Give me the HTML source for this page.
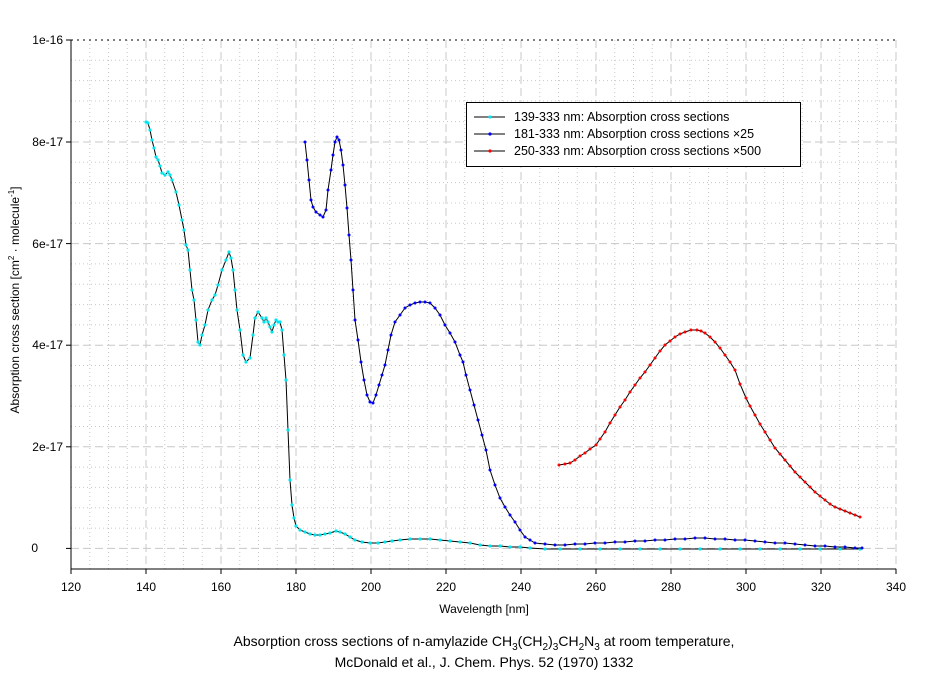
<!DOCTYPE html>
<html><head><meta charset="utf-8"><style>body{margin:0;background:#fff}svg{display:block;font-family:"Liberation Sans",Arial,sans-serif}</style></head><body>
<svg width="937" height="676" viewBox="0 0 937 676">
<defs>
<pattern id="g" x="0" y="0" width="1" height="1"></pattern>
<marker id="mc" markerWidth="4" markerHeight="4" refX="2" refY="2" markerUnits="userSpaceOnUse"><circle cx="2" cy="2" r="1.6" fill="#00e5ee"/></marker>
<marker id="mb" markerWidth="4" markerHeight="4" refX="2" refY="2" markerUnits="userSpaceOnUse"><circle cx="2" cy="2" r="1.5" fill="#0000ff"/></marker>
<marker id="mr" markerWidth="4" markerHeight="4" refX="2" refY="2" markerUnits="userSpaceOnUse"><circle cx="2" cy="2" r="1.5" fill="#ff0000"/></marker>
</defs>
<g id="grid" stroke="#c8c8c8" stroke-width="1">
<!-- minor x -->
<g stroke-dasharray="1,3">
<line x1="89.75" y1="40" x2="89.75" y2="569"/><line x1="108.5" y1="40" x2="108.5" y2="569"/><line x1="127.25" y1="40" x2="127.25" y2="569"/>
<line x1="164.75" y1="40" x2="164.75" y2="569"/><line x1="183.5" y1="40" x2="183.5" y2="569"/><line x1="202.25" y1="40" x2="202.25" y2="569"/>
<line x1="239.75" y1="40" x2="239.75" y2="569"/><line x1="258.5" y1="40" x2="258.5" y2="569"/><line x1="277.25" y1="40" x2="277.25" y2="569"/>
<line x1="314.75" y1="40" x2="314.75" y2="569"/><line x1="333.5" y1="40" x2="333.5" y2="569"/><line x1="352.25" y1="40" x2="352.25" y2="569"/>
<line x1="389.75" y1="40" x2="389.75" y2="569"/><line x1="408.5" y1="40" x2="408.5" y2="569"/><line x1="427.25" y1="40" x2="427.25" y2="569"/>
<line x1="464.75" y1="40" x2="464.75" y2="569"/><line x1="483.5" y1="40" x2="483.5" y2="569"/><line x1="502.25" y1="40" x2="502.25" y2="569"/>
<line x1="539.75" y1="40" x2="539.75" y2="569"/><line x1="558.5" y1="40" x2="558.5" y2="569"/><line x1="577.25" y1="40" x2="577.25" y2="569"/>
<line x1="614.75" y1="40" x2="614.75" y2="569"/><line x1="633.5" y1="40" x2="633.5" y2="569"/><line x1="652.25" y1="40" x2="652.25" y2="569"/>
<line x1="689.75" y1="40" x2="689.75" y2="569"/><line x1="708.5" y1="40" x2="708.5" y2="569"/><line x1="727.25" y1="40" x2="727.25" y2="569"/>
<line x1="764.75" y1="40" x2="764.75" y2="569"/><line x1="783.5" y1="40" x2="783.5" y2="569"/><line x1="802.25" y1="40" x2="802.25" y2="569"/>
<line x1="839.75" y1="40" x2="839.75" y2="569"/><line x1="858.5" y1="40" x2="858.5" y2="569"/><line x1="877.25" y1="40" x2="877.25" y2="569"/>
<line x1="71" y1="60.3" x2="896" y2="60.3"/><line x1="71" y1="80.6" x2="896" y2="80.6"/><line x1="71" y1="101" x2="896" y2="101"/><line x1="71" y1="121.6" x2="896" y2="121.6"/>
<line x1="71" y1="162.3" x2="896" y2="162.3"/><line x1="71" y1="182.6" x2="896" y2="182.6"/><line x1="71" y1="203" x2="896" y2="203"/><line x1="71" y1="223.3" x2="896" y2="223.3"/>
<line x1="71" y1="263.9" x2="896" y2="263.9"/><line x1="71" y1="284.2" x2="896" y2="284.2"/><line x1="71" y1="304.6" x2="896" y2="304.6"/><line x1="71" y1="324.9" x2="896" y2="324.9"/>
<line x1="71" y1="365.5" x2="896" y2="365.5"/><line x1="71" y1="385.8" x2="896" y2="385.8"/><line x1="71" y1="406.2" x2="896" y2="406.2"/><line x1="71" y1="426.5" x2="896" y2="426.5"/>
<line x1="71" y1="467.1" x2="896" y2="467.1"/><line x1="71" y1="487.4" x2="896" y2="487.4"/><line x1="71" y1="507.8" x2="896" y2="507.8"/><line x1="71" y1="528.1" x2="896" y2="528.1"/>
</g>
<g stroke-dasharray="8,4">
<line x1="146" y1="40" x2="146" y2="569"/><line x1="221" y1="40" x2="221" y2="569"/><line x1="296" y1="40" x2="296" y2="569"/><line x1="371" y1="40" x2="371" y2="569"/><line x1="446" y1="40" x2="446" y2="569"/><line x1="521" y1="40" x2="521" y2="569"/><line x1="596" y1="40" x2="596" y2="569"/><line x1="671" y1="40" x2="671" y2="569"/><line x1="746" y1="40" x2="746" y2="569"/><line x1="821" y1="40" x2="821" y2="569"/><line x1="896" y1="40" x2="896" y2="569"/>
<line x1="71" y1="142" x2="896" y2="142"/><line x1="71" y1="243.6" x2="896" y2="243.6"/><line x1="71" y1="345.2" x2="896" y2="345.2"/><line x1="71" y1="446.8" x2="896" y2="446.8"/><line x1="71" y1="548.4" x2="896" y2="548.4"/>
</g>
</g>
<line x1="71" y1="40" x2="896" y2="40" stroke="#000" stroke-dasharray="2,4"/>
<line x1="71" y1="40" x2="71" y2="569" stroke="#000"/>
<line x1="71" y1="569" x2="896" y2="569" stroke="#000"/>
<g stroke="#000">
<line x1="66" y1="40" x2="71" y2="40"/><line x1="66" y1="142" x2="71" y2="142"/><line x1="66" y1="243.6" x2="71" y2="243.6"/><line x1="66" y1="345.2" x2="71" y2="345.2"/><line x1="66" y1="446.8" x2="71" y2="446.8"/><line x1="66" y1="548.4" x2="71" y2="548.4"/>
<line x1="71" y1="569" x2="71" y2="574"/><line x1="146" y1="569" x2="146" y2="574"/><line x1="221" y1="569" x2="221" y2="574"/><line x1="296" y1="569" x2="296" y2="574"/><line x1="371" y1="569" x2="371" y2="574"/><line x1="446" y1="569" x2="446" y2="574"/><line x1="521" y1="569" x2="521" y2="574"/><line x1="596" y1="569" x2="596" y2="574"/><line x1="671" y1="569" x2="671" y2="574"/><line x1="746" y1="569" x2="746" y2="574"/><line x1="821" y1="569" x2="821" y2="574"/><line x1="896" y1="569" x2="896" y2="574"/>
</g>
<g font-size="12" text-anchor="end" fill="#000">
<text x="63" y="44">1e-16</text><text x="63" y="146">8e-17</text><text x="63" y="248">6e-17</text><text x="63" y="349">4e-17</text><text x="63" y="451">2e-17</text><text x="38" y="552">0</text>
</g>
<g font-size="12" text-anchor="middle">
<text x="71" y="591">120</text><text x="146" y="591">140</text><text x="221" y="591">160</text><text x="296" y="591">180</text><text x="371" y="591">200</text><text x="446" y="591">220</text><text x="521" y="591">240</text><text x="596" y="591">260</text><text x="671" y="591">280</text><text x="746" y="591">300</text><text x="821" y="591">320</text><text x="896" y="591">340</text>
<text x="484" y="613">Wavelength [nm]</text>
<text x="484" y="646" font-size="14">Absorption cross sections of n-amylazide CH<tspan font-size="10" dy="4">3</tspan><tspan dy="-4">(CH</tspan><tspan font-size="10" dy="4">2</tspan><tspan dy="-4">)</tspan><tspan font-size="10" dy="4">3</tspan><tspan dy="-4">CH</tspan><tspan font-size="10" dy="4">2</tspan><tspan dy="-4">N</tspan><tspan font-size="10" dy="4">3</tspan><tspan dy="-4"> at room temperature,</tspan></text>
<text x="484" y="667" font-size="14">McDonald et al., J. Chem. Phys. 52 (1970) 1332</text>
</g>
<text transform="translate(19,300) rotate(-90)" font-size="12" text-anchor="middle">Absorption cross section [cm<tspan font-size="8" dy="-5">2</tspan><tspan dy="5"> · molecule</tspan><tspan font-size="8" dy="-5">-1</tspan><tspan dy="5">]</tspan></text>

<polyline fill="none" stroke="#000" stroke-width="1" marker-start="url(#mc)" marker-mid="url(#mc)" marker-end="url(#mc)" points="146,122 148,123 150,130 152,140 154,148 156,157 158,160 160,166 162,173 165,175 168,172 170,175 172,180 176,192 179,205 182,220 184,230 186,245 188,250 190,270 192,290 194,300 196,320 198,342 200,345 202,335 205,325 208,310 212,300 215,295 218,285 222,270 226,260 229,252 231,258 233,270 235,290 237,310 240,330 243,355 246,362 250,358 253,335 255,318 258,312 262,318 264,322 266,318 268,322 270,327 272,332 274,325 276,320 278,322 280,322 282,330 284,355 286,380 288,430 290,480 292,505 294,518 296,526 300,530 305,532 310,534 315,535 320,535 325,534 330,533 336,531 340,532 345,534 350,537 355,540 362,542 370,543 378,543 385,542 392,541 400,540 410,539 420,539 430,539 440,540 450,541 460,542 470,543 480,545 490,546 500,546 510,547 520,547 530,548 545,549 560,549 580,549 600,549 620,549 640,549 660,549 680,549 700,549 720,549 740,549 760,549 780,549 800,549 820,549 840,549 860,549"/>
<polyline fill="none" stroke="#000" stroke-width="1" marker-start="url(#mb)" marker-mid="url(#mb)" marker-end="url(#mb)" points="305,142 307,160 309,180 311,200 313,207 316,212 320,215 323,217 326,210 328,190 331,170 333,155 335,142 337,137 339,140 341,150 343,165 345,185 347,208 349,235 351,260 353,290 355,320 358,340 361,362 364,380 367,395 370,402 373,403 376,395 379,385 382,375 385,365 388,350 391,335 395,322 400,315 405,308 410,305 415,303 420,302 425,302 430,303 435,308 440,315 445,325 450,333 455,342 460,355 463,362 466,375 470,390 474,405 478,420 482,435 486,450 490,470 495,485 500,498 505,507 510,515 515,522 520,530 525,537 530,540 535,543 545,544 555,545 565,545 575,544 585,544 595,543 605,543 615,542 625,542 635,541 645,541 655,540 665,540 675,539 685,539 695,538 705,538 715,539 725,539 735,540 745,540 755,541 765,542 775,543 785,543 795,544 805,545 815,546 825,546 835,547 845,547 855,548 862,548"/>
<polyline fill="none" stroke="#000" stroke-width="1" marker-start="url(#mr)" marker-mid="url(#mr)" marker-end="url(#mr)" points="559,465 565,464 570,463 575,460 580,456 585,453 590,449 596,445 600,439 605,432 610,423 615,415 620,407 625,400 630,392 635,385 640,378 645,372 650,365 655,358 660,351 665,345 670,341 675,337 680,334 685,332 691,330 697,330 701,331 705,333 710,337 715,342 720,348 725,355 730,362 735,370 740,384 746,398 750,406 755,415 760,424 765,432 770,440 775,448 780,454 785,460 790,466 795,472 800,477 805,482 810,487 815,492 820,496 825,500 830,504 835,507 840,509 845,511 850,513 855,515 860,517"/>

<rect x="466.5" y="102.5" width="334" height="64" fill="#fff" stroke="#000"/>
<g stroke="#000"><line x1="474" y1="117" x2="505" y2="117"/><line x1="474" y1="134" x2="505" y2="134"/><line x1="474" y1="151" x2="505" y2="151"/></g>
<circle cx="490" cy="117" r="1.6" fill="#00e5ee"/><circle cx="490" cy="134" r="1.6" fill="#0000ff"/><circle cx="490" cy="151" r="1.6" fill="#ff0000"/>
<g font-size="12.5"><text x="514" y="121">139-333 nm: Absorption cross sections</text><text x="514" y="138">181-333 nm: Absorption cross sections ×25</text><text x="514" y="155">250-333 nm: Absorption cross sections ×500</text></g>
</svg>
</body></html>
